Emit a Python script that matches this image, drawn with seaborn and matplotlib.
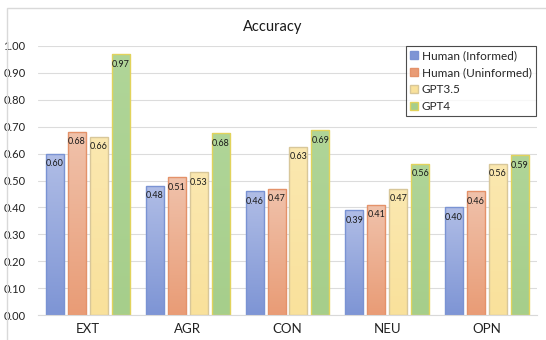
import numpy as np
import pandas as pd
import matplotlib
matplotlib.use("Agg")
import matplotlib.pyplot as plt
import seaborn as sns
from matplotlib.colors import LinearSegmentedColormap
from matplotlib.patches import Rectangle

traits = ["EXT", "AGR", "CON", "NEU", "OPN"]
models = ["Human (Informed)", "Human (Uninformed)", "GPT3.5", "GPT4"]
human_informed = [0.60, 0.48, 0.46, 0.39, 0.40]
human_uninformed = [0.681, 0.513, 0.47, 0.41, 0.46]
gpt35 = [0.663, 0.53, 0.626, 0.47, 0.563]
gpt4 = [0.970, 0.675, 0.688, 0.563, 0.594]
yticks = [0.0, 0.1, 0.2, 0.3, 0.4, 0.5, 0.6, 0.7, 0.8, 0.9, 1.0]

# colours: base fill (bottom of gradient), lighter top, edge
base = ["#7e95d5", "#e99c76", "#f9e19b", "#a6ce8b"]
top = ["#b0bde6", "#f0c2ab", "#fbe8b0", "#b0d598"]
edges = ["#7a93d3", "#e4926a", "#d8c79a", "#e2d35c"]

df = pd.DataFrame({
    "trait": np.repeat(traits, 4),
    "model": models * 5,
    "acc": np.column_stack([human_informed, human_uninformed, gpt35, gpt4]).ravel(),
})

sns.set_style("white")
plt.rcParams["font.family"] = ["Lato", "DejaVu Sans"]

fig = plt.figure(figsize=(5.46, 3.40), dpi=100)
fig.patches.append(Rectangle((7 / 546, -0.1), 1.2, 1 - 8 / 340 + 0.1, transform=fig.transFigure,
                             fill=False, edgecolor="#d9d9d9", linewidth=1.0))
ax = fig.add_axes([38 / 546, 1 - 315 / 340, 499 / 546, 269 / 340])

sns.barplot(data=df, x="trait", y="acc", hue="model", hue_order=models, order=traits,
            palette=base, saturation=1, width=0.88, gap=0.18, linewidth=1.0,
            ax=ax, legend=True)

grad = np.linspace(0, 1, 100).reshape(-1, 1)
for i, cont in enumerate(ax.containers):
    cmap = LinearSegmentedColormap.from_list("g", [base[i], top[i]])
    for p in cont.patches:
        p.set_edgecolor(edges[i])
        p.set_facecolor("none")
        x0, y0 = p.get_x(), p.get_y()
        w, h = p.get_width(), p.get_height()
        im = ax.imshow(grad, cmap=cmap, origin="lower", aspect="auto",
                       extent=(x0, x0 + w, y0, y0 + h), zorder=p.get_zorder() - 0.01)
        im.set_clip_path(p)
    ax.bar_label(cont, fmt="%.2f", padding=-10.5, fontsize=6.5, color="#1a1a1a")
ax.set_xlim(-0.5, 4.5)
ax.set_ylim(0, 1.0)

ax.set_yticks(yticks)
ax.set_yticklabels([f"{v:.2f}" for v in yticks])
ax.yaxis.grid(True, color="#dcdcdc", linewidth=0.8)
ax.set_axisbelow(True)
for s in ["top", "right", "left"]:
    ax.spines[s].set_visible(False)
ax.spines["bottom"].set_color("#d9d9d9")
ax.tick_params(axis="y", labelsize=8, colors="#222222", length=0, pad=9)
ax.tick_params(axis="x", labelsize=9.5, colors="#222222", length=0, pad=6)
ax.set_xlabel("")
ax.set_ylabel("")
fig.text(0.5, 1 - 27 / 340, "Accuracy", ha="center", va="center", fontsize=10.5, color="#1a1a1a")

leg = ax.legend(loc="upper right", bbox_to_anchor=(0.998, 1.0), borderaxespad=0,
                fontsize=8.5, frameon=True, fancybox=False, handlelength=0.7,
                handleheight=0.7, handletextpad=0.3, labelspacing=0.5,
                borderpad=0.35)
leg.get_frame().set_edgecolor("#222222")
leg.get_frame().set_linewidth(0.8)
for h, c in zip(leg.legend_handles, edges):
    h.set_edgecolor(c)

fig.savefig("out.png", dpi=100)
